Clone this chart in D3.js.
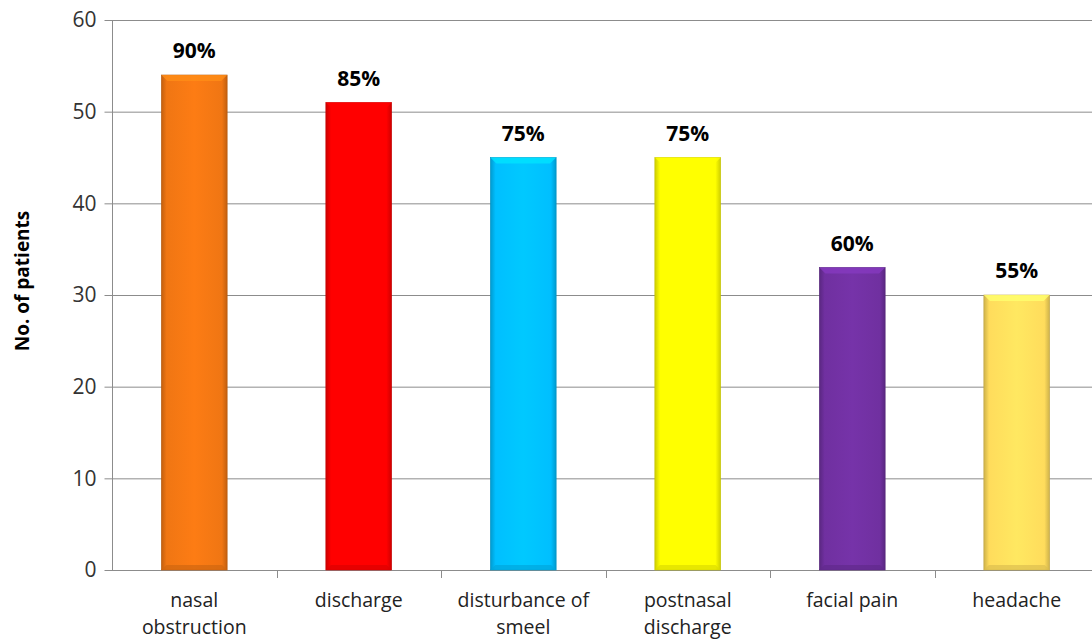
<!DOCTYPE html>
<html><head><meta charset="utf-8">
<script src="https://cdn.jsdelivr.net/npm/d3@7"></script>
<style>body{margin:0;background:#fff}svg{display:block}</style>
</head><body>
<svg id="c" width="1092" height="642"></svg>
<script>
const categories = [["nasal","obstruction"],["discharge"],["disturbance of","smeel"],["postnasal","discharge"],["facial pain"],["headache"]];
const values = [54, 51, 45, 45, 33, 30];
const percentLabels = ["90%","85%","75%","75%","60%","55%"];
const colors = ["#F07613","#FF0000","#00BFFF","#FFFF00","#7030A0","#FFDC5C"];
const yTicks = [0,10,20,30,40,50,60];

const svg = d3.select("#c");
const x = d3.scaleBand().domain(d3.range(categories.length)).range([112,1099]).paddingInner(0.6).paddingOuter(0.3);
const y = d3.scaleLinear().domain([0,60]).range([570,20]);
const font = "'Open Sans', sans-serif";

// gridlines
svg.append("g").selectAll("line").data(yTicks.slice(1)).join("line")
  .attr("x1",112).attr("x2",1092).attr("y1",d=>y(d)+0.5).attr("y2",d=>y(d)+0.5)
  .attr("stroke","#8c8c8c").attr("stroke-width",1);

// y axis
const ya = svg.append("g").attr("transform","translate(112.5,0)")
  .call(d3.axisLeft(y).tickValues(yTicks).tickSize(8).tickPadding(8));
ya.select(".domain").attr("stroke","#8c8c8c").attr("d","M0,"+y(60)+"V"+(y(0)+0.5));
ya.selectAll(".tick line").attr("stroke","#8c8c8c");
ya.selectAll("text").attr("font-family",font).attr("font-size",21).attr("fill","#333");

// x axis
const xb = d3.scaleLinear().domain([0,6]).range([112,1099]);
svg.append("line").attr("x1",112).attr("x2",1092).attr("y1",y(0)+0.5).attr("y2",y(0)+0.5).attr("stroke","#8c8c8c");
svg.append("g").selectAll("line").data(d3.range(1,6)).join("line")
  .attr("x1",d=>Math.round(xb(d))+0.5).attr("x2",d=>Math.round(xb(d))+0.5)
  .attr("y1",y(0)).attr("y2",y(0)+8).attr("stroke","#8c8c8c");

// gradients
const defs = svg.append("defs");
colors.forEach((c,i)=>{
  const g = defs.append("linearGradient").attr("id","g"+i).attr("x1","0").attr("x2","1").attr("y1","0").attr("y2","0");
  const dk = d3.color(c).darker(0.6), lt = d3.color(c).brighter(0.15);
  g.append("stop").attr("offset","0").attr("stop-color",dk);
  g.append("stop").attr("offset","0.08").attr("stop-color",c);
  g.append("stop").attr("offset","0.5").attr("stop-color",lt);
  g.append("stop").attr("offset","0.92").attr("stop-color",c);
  g.append("stop").attr("offset","1").attr("stop-color",dk);
});

const bars = svg.append("g").selectAll("g").data(values).join("g");
bars.append("rect")
  .attr("x",(d,i)=>x(i)).attr("width",x.bandwidth())
  .attr("y",d=>y(d)).attr("height",d=>y(0)-y(d))
  .attr("fill",(d,i)=>"url(#g"+i+")")
  .attr("stroke",(d,i)=>d3.color(colors[i]).darker(0.8)).attr("stroke-width",0.6);
// top bevel
bars.append("path")
  .attr("d",(d,i)=>{const x0=x(i),x1=x(i)+x.bandwidth(),t=y(d);return `M${x0},${t}L${x1},${t}L${x1-6},${t+6}L${x0+6},${t+6}Z`;})
  .attr("fill",(d,i)=>d3.color(colors[i]).brighter(0.5)).attr("opacity",0.8);
// bottom bevel
bars.append("path")
  .attr("d",(d,i)=>{const x0=x(i),x1=x(i)+x.bandwidth(),b=y(0);return `M${x0},${b}L${x1},${b}L${x1-5},${b-5}L${x0+5},${b-5}Z`;})
  .attr("fill",(d,i)=>d3.color(colors[i]).darker(0.4)).attr("opacity",0.7);

// data labels
svg.append("g").selectAll("text").data(values).join("text")
  .attr("x",(d,i)=>x(i)+x.bandwidth()/2).attr("y",d=>y(d)-17)
  .attr("text-anchor","middle").attr("font-family",font).attr("font-weight","bold")
  .attr("font-size",21).attr("fill","#000").text((d,i)=>percentLabels[i]);

// category labels
const cl = svg.append("g").selectAll("text").data(categories).join("text")
  .attr("text-anchor","middle").attr("font-family",font).attr("font-size",19.5).attr("fill","#222");
cl.each(function(lines,i){
  const t = d3.select(this);
  lines.forEach((l,j)=>t.append("tspan").attr("x",x(i)+x.bandwidth()/2).attr("y",607+j*27).text(l));
});

// y title
svg.append("text").attr("transform","translate(29,281) rotate(-90)")
  .attr("text-anchor","middle").attr("font-family",font).attr("font-weight","bold")
  .attr("font-size",19).attr("fill","#000").text("No. of patients");
</script>
</body></html>
